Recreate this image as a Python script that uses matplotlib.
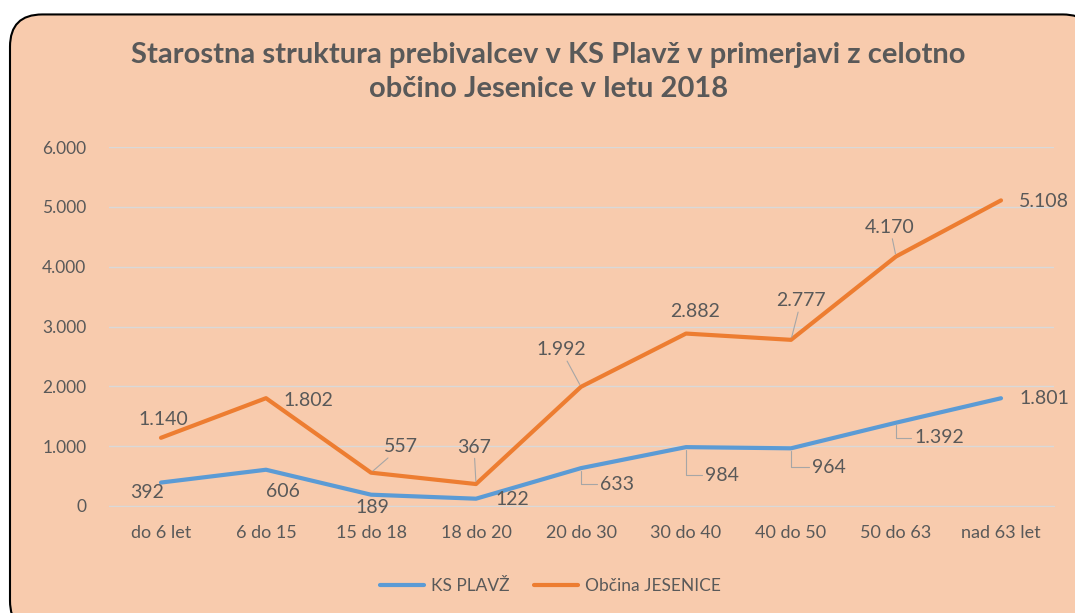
import matplotlib
matplotlib.use("Agg")
import matplotlib.pyplot as plt
from matplotlib.patches import FancyBboxPatch
from matplotlib.ticker import FuncFormatter

# podatki
kategorije = ["do 6 let", "6 do 15", "15 do 18", "18 do 20", "20 do 30",
              "30 do 40", "40 do 50", "50 do 63", "nad 63 let"]
ks_plavz = [392, 606, 189, 122, 633, 984, 964, 1392, 1801]
obcina = [1140, 1802, 557, 367, 1992, 2882, 2777, 4170, 5108]

naslov = "Starostna struktura prebivalcev v KS Plavž v primerjavi z celotno\nobčino Jesenice v letu 2018"

BG = "#F8CBAD"
TXT = "#595959"
MODRA = "#5B9BD5"
ORANZNA = "#ED7D31"
GRID = "#D9D9D9"
LEADER = "#A6A6A6"

plt.rcParams['font.family'] = ['Lato', 'DejaVu Sans']

def fmt(v):
    return f"{v:,}".replace(",", ".")

fig = plt.figure(figsize=(10.75, 6.13), dpi=100)
fig.patch.set_facecolor("white")

# okvir z zaobljenimi robovi
box = FancyBboxPatch((10/1075, -20/613), 1085/1075, (613 - 12 + 20)/613 - 0.004,
                     boxstyle="round,pad=0,rounding_size=0.03",
                     transform=fig.transFigure, facecolor=BG, edgecolor="black",
                     linewidth=1.5, mutation_aspect=1075/613, zorder=-1)
fig.patches.append(box)

ax = fig.add_axes([108.5/1075, 1 - 506/613, 945/1075, 359/613])
ax.set_facecolor("none")
x = list(range(len(kategorije)))

ax.plot(x, ks_plavz, color=MODRA, lw=3, solid_capstyle="round", label="KS PLAVŽ", zorder=3)
ax.plot(x, obcina, color=ORANZNA, lw=3, solid_capstyle="round", label="Občina JESENICE", zorder=3)

ax.set_xlim(-0.5, 8.5)
ax.set_ylim(0, 6000)
ax.set_yticks(range(0, 6001, 1000))
ax.yaxis.set_major_formatter(FuncFormatter(lambda v, p: fmt(int(v))))
ax.set_xticks(x)
ax.set_xticklabels(kategorije)
ax.tick_params(axis="y", length=0, colors=TXT, labelsize=12.5, pad=16)
ax.tick_params(axis="x", length=0, colors=TXT, labelsize=13, pad=14)
ax.grid(axis="y", color=GRID, lw=1)
ax.set_axisbelow(True)
for s in ["top", "right", "left"]:
    ax.spines[s].set_visible(False)
ax.spines["bottom"].set_color(GRID)

# odmiki oznak (v pikslih) in vrsta vodilne črte
odmik_o = [(2, 18, None), (42, -2, None), (30, 26, "s"), (-2, 37, "s"), (-20, 37, "s"),
           (9, 22, None), (10, 39, "s"), (-6, 29, "s"), (43, -1, None)]
odmik_m = [(-14, -10, None), (17, -22, None), (1, -13, None), (36, -1, None), (36, -16, "L"),
           (36, -28, "L"), (38, -19, "L"), (43, -15, "L"), (43, 0, None)]

def oznaci(vals, odmiki):
    for i, (v, (dx, dy, tip)) in enumerate(zip(vals, odmiki)):
        kw = dict(xytext=(dx, dy), textcoords="offset pixels", ha="center", va="center",
                  fontsize=14, color=TXT, zorder=4)
        if tip == "s":
            kw["arrowprops"] = dict(arrowstyle="-", color=LEADER, lw=0.8, shrinkA=0, shrinkB=2)
        elif tip == "L":
            kw["arrowprops"] = dict(arrowstyle="-", color=LEADER, lw=0.8, shrinkA=0, shrinkB=2,
                                    relpos=(0, 0.5),
                                    connectionstyle="angle,angleA=0,angleB=90,rad=0")
        ax.annotate(fmt(v), (i, v), **kw)

oznaci(obcina, odmik_o)
oznaci(ks_plavz, odmik_m)

fig.text(0.51, 1 - 72/613, naslov, ha="center", va="center", fontsize=21,
         fontweight="bold", color=TXT, linespacing=1.35)

leg = fig.legend(loc="center", bbox_to_anchor=(0.512, 1 - 586/613), ncol=2, frameon=False,
                 fontsize=12.5, handlelength=2.5, columnspacing=1.45, handletextpad=0.4)
for t in leg.get_texts():
    t.set_color(TXT)

fig.savefig("out.png", dpi=100, facecolor=fig.get_facecolor())
